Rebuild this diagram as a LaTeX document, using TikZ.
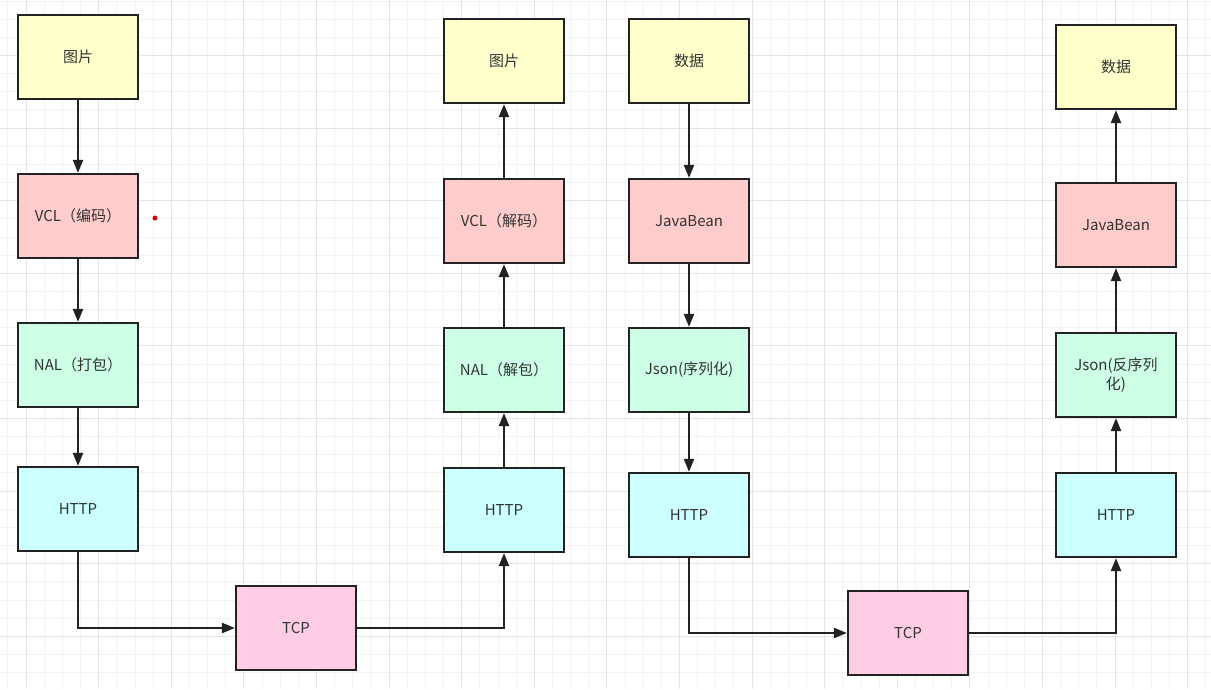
\documentclass[tikz,border=0pt]{standalone}
\usepackage{fontspec}
\setmainfont{Noto Sans CJK SC}
\usetikzlibrary{arrows.meta}
\definecolor{gridminor}{HTML}{F2F2F2}
\definecolor{gridmajor}{HTML}{E4E4E4}
\definecolor{cyellow}{HTML}{FFFFCC}
\definecolor{cred}{HTML}{FFCCCC}
\definecolor{cgreen}{HTML}{CCFFE6}
\definecolor{ccyan}{HTML}{CCFFFF}
\definecolor{cpink}{HTML}{FFCCE6}
\definecolor{cline}{HTML}{222222}
\definecolor{ctext}{HTML}{333333}
\tikzset{
  box/.style={draw=cline, line width=2.2pt, minimum width=120pt, minimum height=84pt,
    inner sep=0pt, text=ctext, font=\fontsize{15}{19}\selectfont, align=center},
  ybox/.style={box, fill=cyellow},
  rbox/.style={box, fill=cred},
  gbox/.style={box, fill=cgreen},
  cbox/.style={box, fill=ccyan},
  pbox/.style={box, fill=cpink},
  conn/.style={draw=cline, line width=2.2pt, -{Triangle[length=13pt,width=10pt]}},
  minorline/.style={draw=gridminor, line width=1pt},
  majorline/.style={draw=gridmajor, line width=1pt}
}
\begin{document}
\begin{tikzpicture}[x=1pt,y=-1pt]
\useasboundingbox (0,0) rectangle (1211,689);
\fill[white] (0,0) rectangle (1211,689);
% grid
\foreach \x in {7.95,26.1,...,1211} \draw[minorline] (\x,0) -- (\x,689);
\foreach \y in {1.05,19.2,...,689} \draw[minorline] (0,\y) -- (1211,\y);
\foreach \x in {26.1,98.7,...,1211} \draw[majorline] (\x,0) -- (\x,689);
\foreach \y in {55.5,128.1,...,689} \draw[majorline] (0,\y) -- (1211,\y);

% column 1
\node[ybox] (a1) at (78,57) {图片};
\node[rbox] (a2) at (78,216) {VCL（编码）};
\node[gbox] (a3) at (78,365) {NAL（打包）};
\node[cbox] (a4) at (78,509) {HTTP};
\node[pbox] (t1) at (296,628) {TCP};
% column 2
\node[ybox] (b1) at (504,61) {图片};
\node[rbox] (b2) at (504,221) {VCL（解码）};
\node[gbox] (b3) at (504,370) {NAL（解包）};
\node[cbox] (b4) at (504,510) {HTTP};
% column 3
\node[ybox] (c1) at (689,61) {数据};
\node[rbox] (c2) at (689,221) {JavaBean};
\node[gbox] (c3) at (689,370) {Json(序列化)};
\node[cbox] (c4) at (689,515) {HTTP};
\node[pbox] (t2) at (908,633) {TCP};
% column 4
\node[ybox] (d1) at (1116,67) {数据};
\node[rbox] (d2) at (1116,225) {JavaBean};
\node[gbox] (d3) at (1116,375) {Json(反序列\\化)};
\node[cbox] (d4) at (1116,515) {HTTP};

% connectors
\draw[conn] (a1) -- (a2);
\draw[conn] (a2) -- (a3);
\draw[conn] (a3) -- (a4);
\draw[conn] (a4.south) |- (t1.west);
\draw[conn] (t1.east) -| (b4.south);
\draw[conn] (b4) -- (b3);
\draw[conn] (b3) -- (b2);
\draw[conn] (b2) -- (b1);

\draw[conn] (c1) -- (c2);
\draw[conn] (c2) -- (c3);
\draw[conn] (c3) -- (c4);
\draw[conn] (c4.south) |- (t2.west);
\draw[conn] (t2.east) -| (d4.south);
\draw[conn] (d4) -- (d3);
\draw[conn] (d3) -- (d2);
\draw[conn] (d2) -- (d1);

% red dot
\fill[red!85!black] (155,218) circle (2.5pt);
\end{tikzpicture}
\end{document}
